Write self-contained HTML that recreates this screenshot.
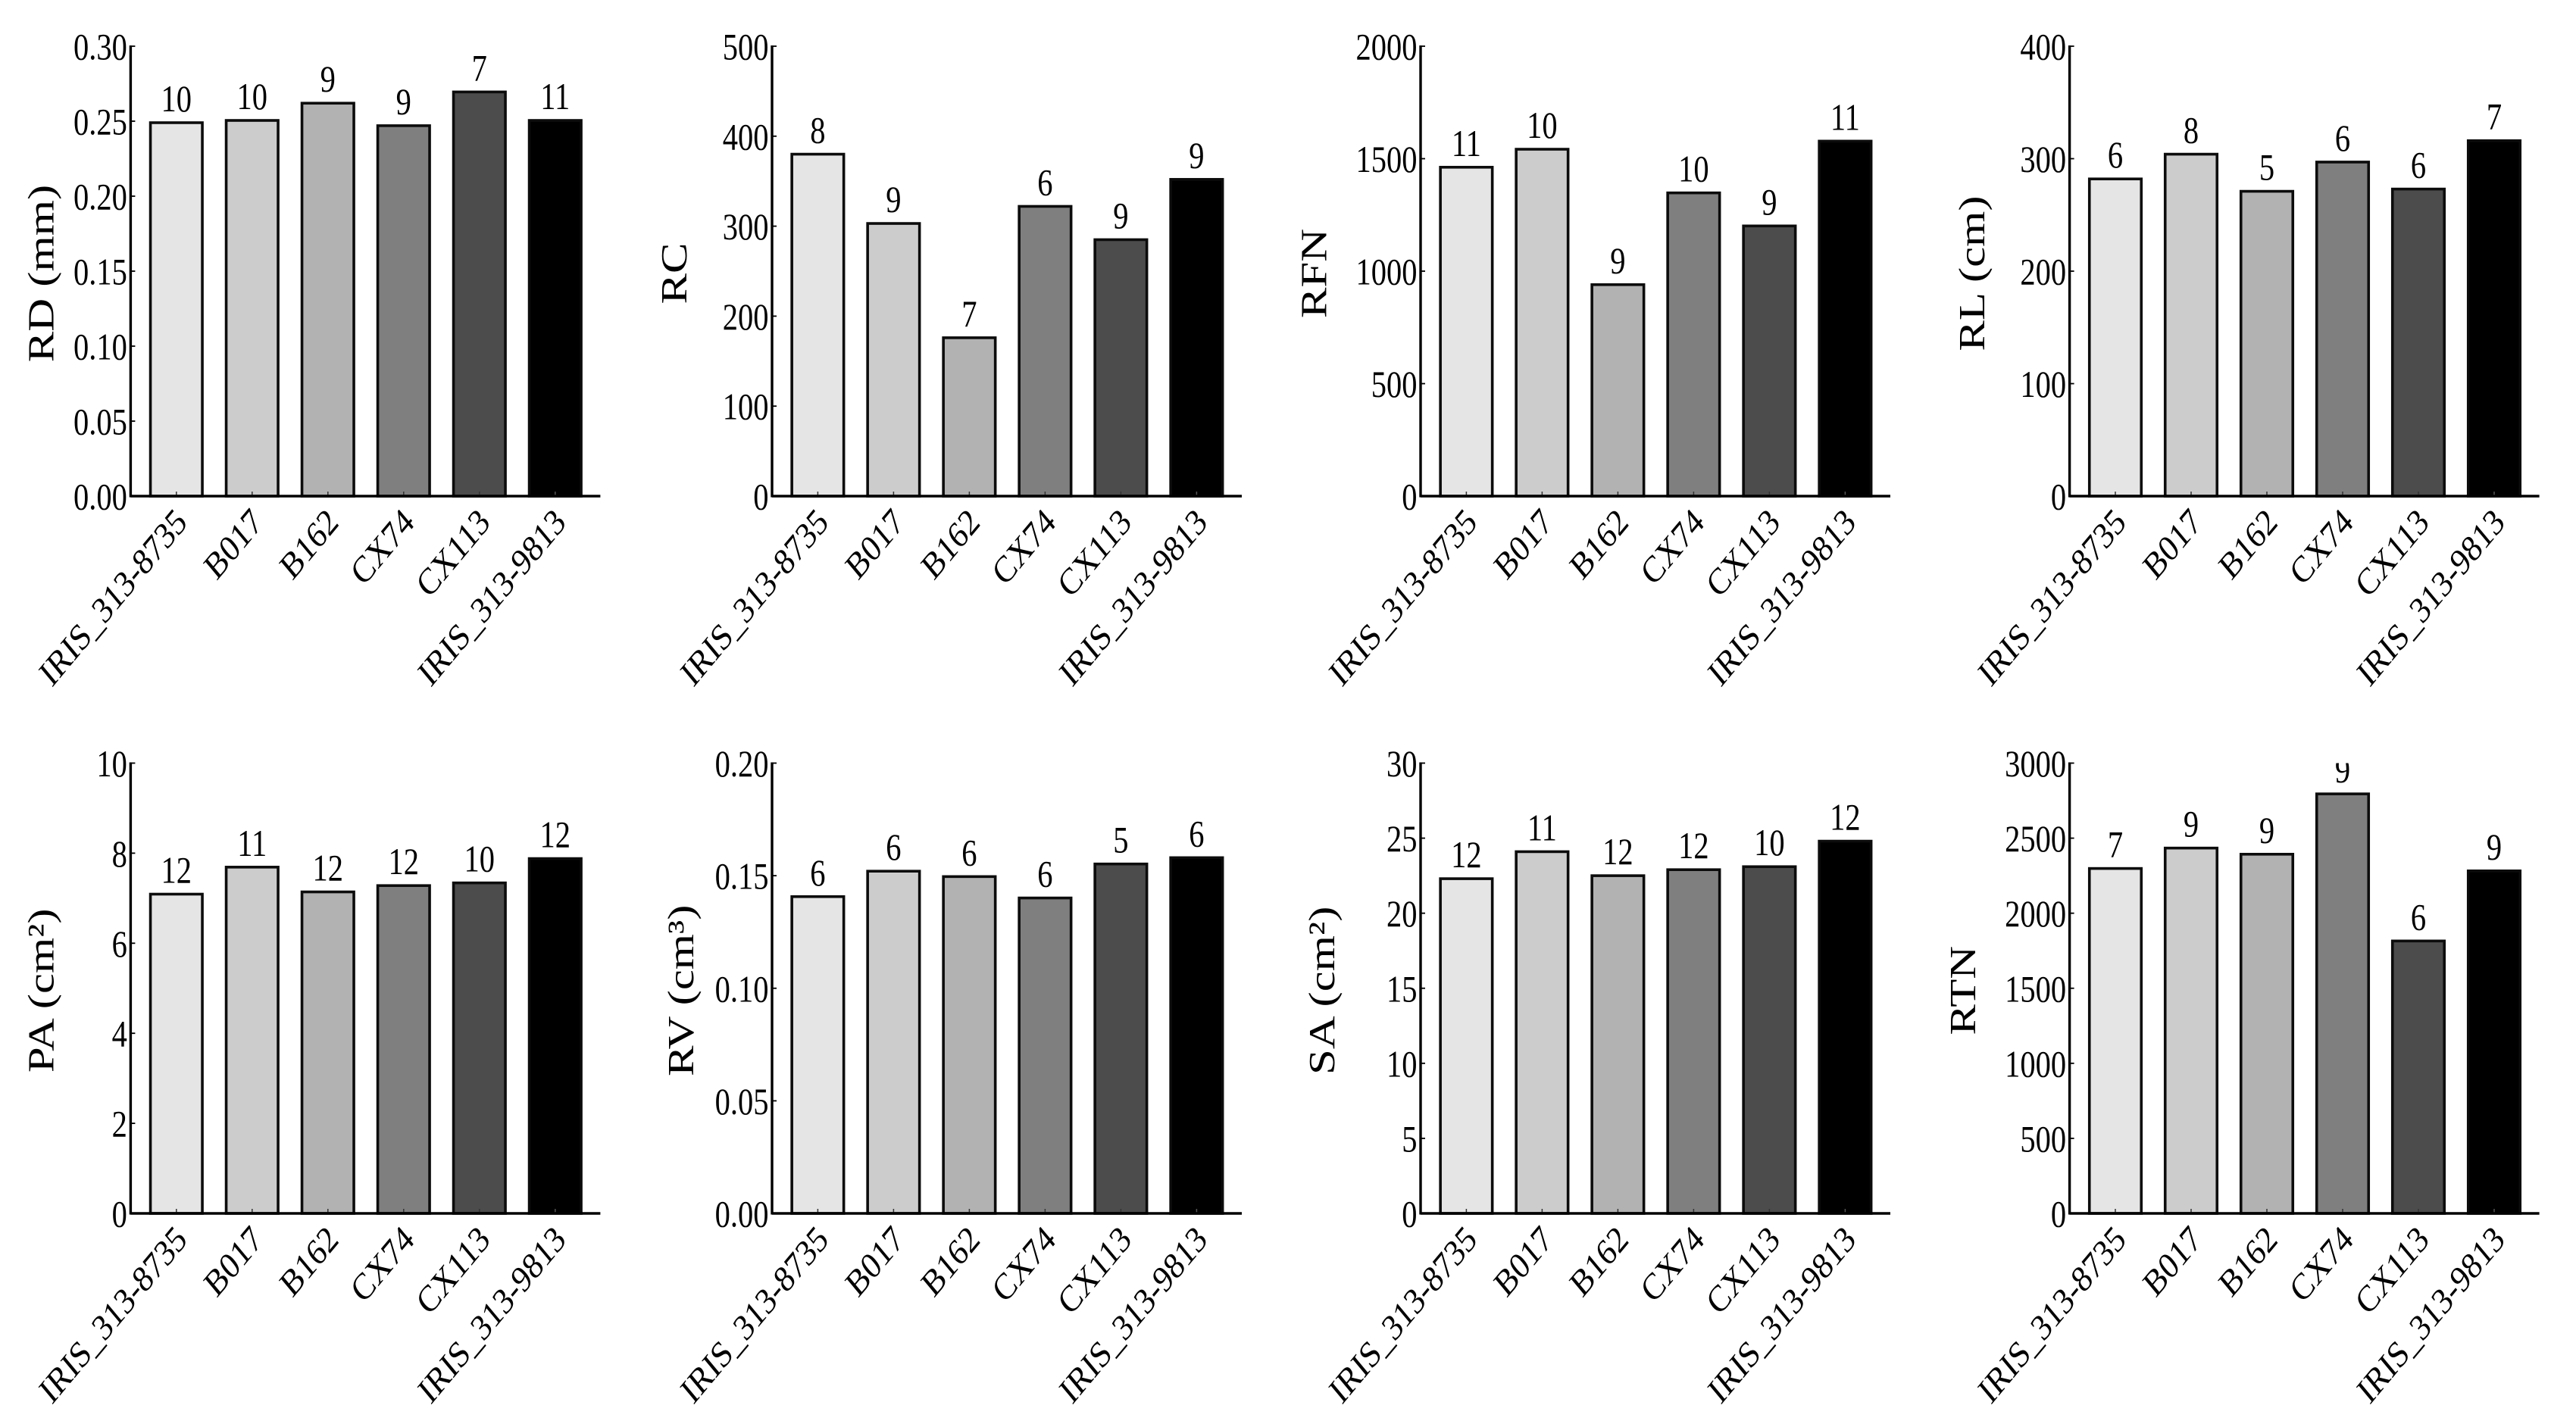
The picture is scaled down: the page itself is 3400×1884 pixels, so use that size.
<!DOCTYPE html>
<html lang="en">
<head>
<meta charset="utf-8">
<title>Root trait bar charts</title>
<style>
html,body{margin:0;padding:0;background:#fff;width:3400px;height:1884px;overflow:hidden}
svg{display:block}
text{font-family:"Liberation Serif","Times New Roman",serif;fill:#000}
</style>
</head>
<body>
<svg id="figure" xmlns="http://www.w3.org/2000/svg" width="3400" height="1884" viewBox="0 0 3400 1884">
<rect x="0" y="0" width="3400" height="1884" fill="#ffffff"/>
</svg>
<script>
const categories = ["IRIS_313-8735", "B017", "B162", "CX74", "CX113", "IRIS_313-9813"];
const barFills = ["#e5e5e5", "#cccccc", "#b2b2b2", "#7f7f7f", "#4c4c4c", "#000000"];

const rdValues = [0.249, 0.2505, 0.262, 0.247, 0.2695, 0.2505];
const rdCounts = [10, 10, 9, 9, 7, 11];
const rdTicks = ["0.00", "0.05", "0.10", "0.15", "0.20", "0.25", "0.30"];

const rcValues = [380, 303, 176, 322, 285, 352];
const rcCounts = [8, 9, 7, 6, 9, 9];
const rcTicks = ["0", "100", "200", "300", "400", "500"];

const rfnValues = [1462, 1542, 940, 1348, 1201, 1578];
const rfnCounts = [11, 10, 9, 10, 9, 11];
const rfnTicks = ["0", "500", "1000", "1500", "2000"];

const rlValues = [282, 304, 271, 297, 273, 316];
const rlCounts = [6, 8, 5, 6, 6, 7];
const rlTicks = ["0", "100", "200", "300", "400"];

const paValues = [7.09, 7.69, 7.14, 7.28, 7.34, 7.88];
const paCounts = [12, 11, 12, 12, 10, 12];
const paTicks = ["0", "2", "4", "6", "8", "10"];

const rvValues = [0.1407, 0.152, 0.1496, 0.1401, 0.1552, 0.158];
const rvCounts = [6, 6, 6, 6, 5, 6];
const rvTicks = ["0.00", "0.05", "0.10", "0.15", "0.20"];

const saValues = [22.3, 24.1, 22.5, 22.9, 23.1, 24.8];
const saCounts = [12, 11, 12, 12, 10, 12];
const saTicks = ["0", "5", "10", "15", "20", "25", "30"];

const rtnValues = [2298, 2434, 2393, 2795, 1815, 2282];
const rtnCounts = [7, 9, 9, 9, 6, 9];
const rtnTicks = ["0", "500", "1000", "1500", "2000", "2500", "3000"];

const panels = [
  {key: "rd",  title: "RD (mm)",  values: rdValues,  counts: rdCounts,  ticks: rdTicks,  axisX: 172.4,  top: 61,     zero: 655,  labelX: 70.5},
  {key: "rc",  title: "RC",       values: rcValues,  counts: rcCounts,  ticks: rcTicks,  axisX: 1019,   top: 61,     zero: 655,  labelX: 905.8},
  {key: "rfn", title: "RFN",      values: rfnValues, counts: rfnCounts, ticks: rfnTicks, axisX: 1875,   top: 61,     zero: 655,  labelX: 1750.4},
  {key: "rl",  title: "RL (cm)",  values: rlValues,  counts: rlCounts,  ticks: rlTicks,  axisX: 2731.6, top: 61,     zero: 655,  labelX: 2618.8},
  {key: "pa",  title: "PA (cm²)", values: paValues,  counts: paCounts,  ticks: paTicks,  axisX: 172.4,  top: 1007.5, zero: 1602, labelX: 70.5},
  {key: "rv",  title: "RV (cm³)", values: rvValues,  counts: rvCounts,  ticks: rvTicks,  axisX: 1019,   top: 1007.5, zero: 1602, labelX: 915},
  {key: "sa",  title: "SA (cm²)", values: saValues,  counts: saCounts,  ticks: saTicks,  axisX: 1875,   top: 1007.5, zero: 1602, labelX: 1761},
  {key: "rtn", title: "RTN",      values: rtnValues, counts: rtnCounts, ticks: rtnTicks, axisX: 2731.6, top: 1007.5, zero: 1602, labelX: 2607}
];

const SVG_NS = "http://www.w3.org/2000/svg";
const Y_STRETCH = 1.24;
const LABEL_STRETCH = 1.2;
const figure = document.getElementById("figure");

function make(parent, tag, attrs, content) {
  const el = document.createElementNS(SVG_NS, tag);
  for (const k in attrs) el.setAttribute(k, attrs[k]);
  if (content !== undefined) el.textContent = content;
  parent.appendChild(el);
  return el;
}

function drawPanel(p) {
  const axisLength = 620;
  const firstCenter = 60.4;
  const step = 100;
  const barWidth = 68.5;
  const tickNumbers = p.ticks.map(Number);
  const domainMin = tickNumbers[0];
  const domainMax = tickNumbers[tickNumbers.length - 1];
  const yScale = v => p.zero - (v - domainMin) / (domainMax - domainMin) * (p.zero - p.top);
  const xScale = i => p.axisX + firstCenter + i * step;

  const group = make(figure, "g", {});
  
  

  const clip = make(group, "clipPath", {id: "clip-" + p.key, clipPathUnits: "userSpaceOnUse"});
  make(clip, "rect", {x: p.axisX, y: p.top, width: axisLength, height: p.zero - p.top});

  const countLayer = make(group, "g", {"clip-path": "url(#clip-" + p.key + ")"});
  
  

  p.values.forEach((v, i) => {
    const top = yScale(v);
    const bar = make(group, "rect", {
      x: xScale(i) - barWidth / 2, y: top, width: barWidth, height: p.zero - top,
      fill: barFills[i], stroke: "#0c0c0c", "stroke-width": 3.6
    });
    
    

    const xTick = make(group, "line", {
      x1: xScale(i), x2: xScale(i), y1: p.zero, y2: p.zero - 6,
      stroke: i === 5 ? "#555555" : "#333333", "stroke-width": 1.5
    });
    
    

    const count = make(countLayer, "text", {
      transform: "translate(" + xScale(i) + "," + (top - 15) + ") scale(1," + Y_STRETCH + ")",
      "text-anchor": "middle", "font-size": 40.5
    }, String(p.counts[i]));
    
    

    const xLabel = make(group, "text", {
      transform: "translate(" + (xScale(i) + 16) + "," + (p.zero + 37) + ") scale(1," + LABEL_STRETCH + ") rotate(-45)",
      "text-anchor": "end", "font-size": 41
    }, categories[i]);
    
    
  });

  p.ticks.forEach((t, i) => {
    const y = yScale(tickNumbers[i]);
    const yTick = make(group, "line", {
      x1: p.axisX, x2: p.axisX + 6, y1: y, y2: y, stroke: "#000000", "stroke-width": 1.8
    });
    
    

    const yLabel = make(group, "text", {
      transform: "translate(" + (p.axisX - 4.5) + "," + (y + 17.5) + ") scale(1," + Y_STRETCH + ")",
      "text-anchor": "end", "font-size": 40.5
    }, t);
    
    
  });

  const yAxis = make(group, "line", {
    x1: p.axisX, x2: p.axisX, y1: p.top - 1, y2: p.zero + 1.5, stroke: "#000000", "stroke-width": 3.4
  });
  
  

  const xAxis = make(group, "line", {
    x1: p.axisX, x2: p.axisX + axisLength, y1: p.zero, y2: p.zero, stroke: "#000000", "stroke-width": 3.4
  });
  
  

  const title = make(group, "text", {
    transform: "translate(" + p.labelX + "," + ((p.top + p.zero) / 2 + 3) + ") scale(1," + Y_STRETCH + ") rotate(-90)",
    "text-anchor": "middle", "font-size": 49
  }, p.title);
  
  
}

panels.forEach(drawPanel);
</script>
</body>
</html>
